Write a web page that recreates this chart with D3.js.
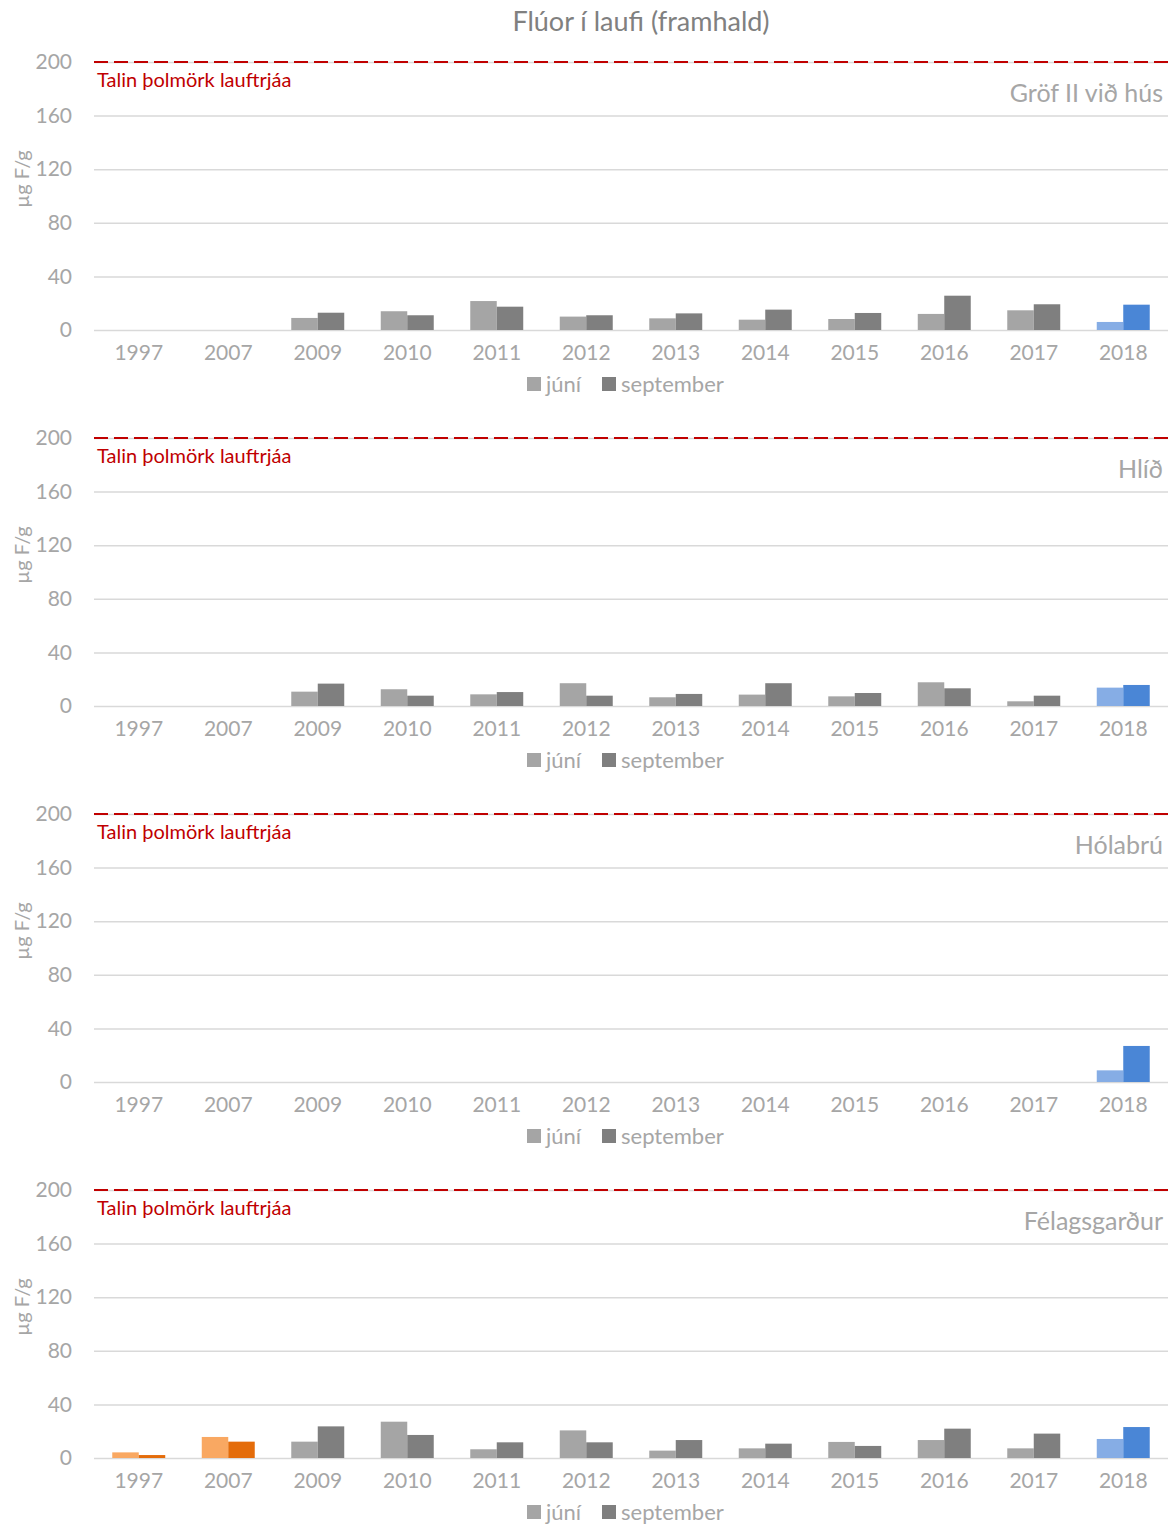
<!DOCTYPE html>
<html>
<head>
<meta charset="utf-8">
<script src="https://cdn.jsdelivr.net/npm/d3@7"></script>
<style>
  body { margin: 0; background: #fff; }
  svg text { font-family: Lato, "Noto Sans", sans-serif; }
</style>
</head>
<body>
<div id="chart"></div>
<script>
var years = ["1997", "2007", "2009", "2010", "2011", "2012", "2013", "2014", "2015", "2016", "2017", "2018"];
var stations = ["Gröf II við hús", "Hlíð", "Hólabrú", "Félagsgarður"];
var seriesNames = ["júní", "september"];

// júní values per station (µg F/g), null = no sample
var juni = [
  [null, null, 9, 14, 21.6, 10, 8.7, 7.7, 8.2, 12, 14.7, 6],
  [null, null, 10.7, 12.5, 8.7, 17, 6.5, 8.5, 7.2, 17.7, 3.5, 13.7],
  [null, null, null, null, null, null, null, null, null, null, null, 8.7],
  [4.2, 15.7, 12.2, 27.1, 6.5, 20.6, 5.5, 7.2, 12, 13.4, 7.2, 14.2]
];
var september = [
  [null, null, 12.9, 11, 17.4, 11, 12.4, 15.2, 12.7, 25.6, 19.2, 18.9],
  [null, null, 16.7, 7.7, 10.4, 7.7, 9, 17, 9.7, 13.2, 7.7, 15.7],
  [null, null, null, null, null, null, null, null, null, null, null, 26.9],
  [2.2, 12.2, 23.6, 17.2, 11.7, 11.7, 13.4, 10.7, 9, 21.9, 18.2, 23.1]
];
var yTicks = [0, 40, 80, 120, 160, 200];
var threshold = 200;

var colors = {
  "júní": "#a5a5a5", "september": "#7f7f7f"
};
var specialColors = {
  "1997": ["#f9a862", "#e46c0a"],
  "2007": ["#f9a862", "#e46c0a"],
  "2018": ["#86ade5", "#4a86d6"]
};

var W = 1169, H = 1526;
var margin = {left: 94, top: 62},
    width = 1074,
    height = 268,
    panelStep = 376;

var svg = d3.select("#chart").append("svg")
    .attr("width", W)
    .attr("height", H);

svg.append("text")
    .attr("x", 641)
    .attr("y", 22)
    .attr("dy", "0.35em")
    .attr("text-anchor", "middle")
    .style("font-size", "27px")
    .style("fill", "#808080")
    .text("Flúor í laufi (framhald)");

var x = d3.scaleBand().domain(years).range([0, width])
    .paddingInner(0.408).paddingOuter(0.204);
var x1 = d3.scaleBand().domain(seriesNames).range([0, x.bandwidth()]);
var y = d3.scaleLinear().domain([0, 200]).range([height, 0]);

stations.forEach(function(station, i) {
  var g = svg.append("g")
      .attr("transform", "translate(" + margin.left + "," + (margin.top + i * panelStep) + ")");

  // gridlines + y labels
  var yAxis = g.append("g")
      .call(d3.axisLeft(y).tickValues(yTicks).tickSize(-width).tickPadding(22));
  yAxis.select(".domain").remove();
  yAxis.selectAll(".tick line").attr("stroke", "#d9d9d9").attr("stroke-width", 1.5);
  yAxis.selectAll(".tick text")
      .style("font-size", "21px")
      .style("fill", "#a6a6a6");

  var xAxis = g.append("g")
      .attr("transform", "translate(0," + height + ")")
      .call(d3.axisBottom(x).tickSize(0).tickPadding(15));
  xAxis.select(".domain").remove();
  xAxis.selectAll(".tick text")
      .style("font-size", "21px")
      .style("fill", "#a6a6a6");

  // bars
  var rows = years.map(function(yr, j) {
    return {year: yr, values: [
      {key: "júní", k: 0, v: juni[i][j]},
      {key: "september", k: 1, v: september[i][j]}
    ]};
  });
  g.append("g").selectAll("g")
    .data(rows)
    .enter().append("g")
      .attr("transform", function(d) { return "translate(" + x(d.year) + ",0)"; })
    .selectAll("rect")
    .data(function(d) {
      return d.values.filter(function(v) { return v.v != null; })
        .map(function(v) { v.year = d.year; return v; });
    })
    .enter().append("rect")
      .attr("x", function(d) { return x1(d.key); })
      .attr("width", x1.bandwidth())
      .attr("y", function(d) { return y(d.v); })
      .attr("height", function(d) { return height - y(d.v); })
      .attr("fill", function(d) {
        return specialColors[d.year] ? specialColors[d.year][d.k] : colors[d.key];
      });

  // threshold line
  g.append("line")
      .attr("x1", 0).attr("x2", width)
      .attr("y1", y(threshold)).attr("y2", y(threshold))
      .attr("stroke", "#c00000")
      .attr("stroke-width", 2)
      .attr("stroke-dasharray", "14,6");

  g.append("text")
      .attr("x", 3)
      .attr("y", 18)
      .attr("dy", "0.35em")
      .style("font-size", "20px")
      .style("fill", "#c00000")
      .text("Talin þolmörk lauftrjáa");

  g.append("text")
      .attr("x", width - 5)
      .attr("y", 31)
      .attr("dy", "0.35em")
      .attr("text-anchor", "end")
      .style("font-size", "25px")
      .style("fill", "#a6a6a6")
      .text(station);

  g.append("text")
      .attr("transform", "translate(" + (22 - margin.left) + ",117) rotate(-90)")
      .attr("dy", "0.35em")
      .attr("text-anchor", "middle")
      .style("font-size", "20px")
      .style("fill", "#a6a6a6")
      .text("µg F/g");

  // legend
  var legend = g.append("g").attr("transform", "translate(0," + (height + 54) + ")");
  var lx = [433, 508];
  seriesNames.forEach(function(s, k) {
    legend.append("rect")
        .attr("x", lx[k]).attr("y", -7)
        .attr("width", 14).attr("height", 14)
        .attr("fill", colors[s]);
    legend.append("text")
        .attr("x", lx[k] + 19)
        .attr("y", 0)
        .attr("dy", "0.35em")
        .style("font-size", "22px")
        .style("fill", "#a6a6a6")
        .text(s);
  });
});
</script>
</body>
</html>
